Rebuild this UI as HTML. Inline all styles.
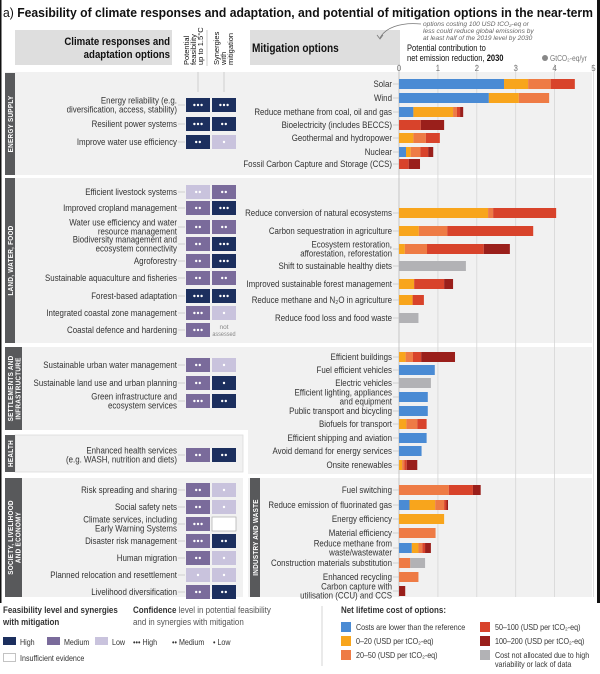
<!DOCTYPE html>
<html><head><meta charset="utf-8"><style>
html,body{margin:0;padding:0;background:#fff;}
svg{display:block;font-family:"Liberation Sans",sans-serif;}
</style></head><body>
<svg id="chart" width="600" height="674" viewBox="0 0 600 674" xmlns="http://www.w3.org/2000/svg">
<rect x="0" y="0" width="1.5" height="603" fill="#111"/>
<rect x="597" y="0" width="3" height="603" fill="#111"/>
<text x="3" y="17" font-size="13" fill="#111" textLength="590" lengthAdjust="spacingAndGlyphs">a) <tspan font-weight="bold">Feasibility of climate responses and adaptation, and potential of mitigation options in the near-term</tspan></text>

<rect x="15" y="30" width="157" height="35" fill="#dedede"/>
<text class="cond" x="170" y="45" font-size="11.5" font-weight="bold" text-anchor="end" fill="#111">Climate responses and</text>
<text class="cond" x="170" y="58" font-size="11.5" font-weight="bold" text-anchor="end" fill="#111">adaptation options</text>
<g font-size="7.5" fill="#111">
<text transform="translate(189,65) rotate(-90)">Potential</text>
<text transform="translate(196,65) rotate(-90)">feasibility</text>
<text transform="translate(203,65) rotate(-90)">up to 1.5°C</text>
<text transform="translate(219,65) rotate(-90)">Synergies</text>
<text transform="translate(226,65) rotate(-90)">with</text>
<text transform="translate(233,65) rotate(-90)">mitigation</text>
</g>
<line x1="207" y1="30" x2="207" y2="66" stroke="#aaa" stroke-width="0.6"/>

<rect x="250" y="30" width="150" height="35" fill="#dedede"/>
<text class="cond" x="252" y="52" font-size="12" font-weight="bold" fill="#111">Mitigation options</text>
<g font-size="6.6" font-style="italic" fill="#666">
<text x="423" y="26">options costing 100 USD tCO₂-eq or</text>
<text x="423" y="33">less could reduce global emissions by</text>
<text x="423" y="40">at least half of the 2019 level by 2030</text>
</g>
<path d="M421,24 C400,22 385,28 380,38" fill="none" stroke="#777" stroke-width="0.8"/>
<path d="M377,35 L380,39 L383,35" fill="none" stroke="#777" stroke-width="0.8"/>
<text class="cond" x="407" y="51" font-size="9" fill="#111">Potential contribution to</text>
<text class="cond" x="407" y="61" font-size="9" fill="#111">net emission reduction, <tspan font-weight="bold">2030</tspan></text>
<circle cx="545" cy="58" r="3" fill="#888"/>
<text class="cond" x="550" y="61" font-size="8" fill="#777">GtCO₂-eq/yr</text>

<g id="panels"></g>
<g id="grid"></g>
<g id="content"></g>

<!-- legend -->
<g font-size="8.5" fill="#333">
<text class="cond" x="3" y="613" font-size="9.5" font-weight="bold" fill="#333">Feasibility level and synergies</text>
<text class="cond" x="3" y="625" font-size="9.5" font-weight="bold" fill="#333">with mitigation</text>
<rect x="3" y="637" width="13" height="8" fill="#1c2f5e"/><text class="cond" x="20" y="645">High</text>
<rect x="47" y="637" width="13" height="8" fill="#7a6b9b"/><text class="cond" x="64" y="645">Medium</text>
<rect x="95" y="637" width="13" height="8" fill="#c9c3dd"/><text class="cond" x="112" y="645">Low</text>
<rect x="3.5" y="653.5" width="12" height="8" fill="#fff" stroke="#aaa" stroke-width="0.7"/><text class="cond" x="20" y="661">Insufficient evidence</text>
<text class="cond" x="133" y="613" font-size="9.5" fill="#555"><tspan font-weight="bold" fill="#333">Confidence</tspan> level in potential feasibility</text>
<text class="cond" x="133" y="625" font-size="9.5" fill="#555">and in synergies with mitigation</text>
<text class="cond" x="133" y="645">••• High</text>
<text class="cond" x="172" y="645">•• Medium</text>
<text class="cond" x="213" y="645">• Low</text>
<line x1="322" y1="606" x2="322" y2="666" stroke="#ccc" stroke-width="0.8"/>
<text class="cond" x="341" y="613" font-size="9.5" font-weight="bold" fill="#333">Net lifetime cost of options:</text>
<rect x="341" y="622" width="10" height="10" fill="#4a8bd4"/><text class="cond" x="356" y="630">Costs are lower than the reference</text>
<rect x="341" y="636" width="10" height="10" fill="#f8a51c"/><text class="cond" x="356" y="644">0–20 (USD per tCO₂-eq)</text>
<rect x="341" y="650" width="10" height="10" fill="#ee7b45"/><text class="cond" x="356" y="658">20–50 (USD per tCO₂-eq)</text>
<rect x="480" y="622" width="10" height="10" fill="#d8432b"/><text class="cond" x="495" y="630">50–100 (USD per tCO₂-eq)</text>
<rect x="480" y="636" width="10" height="10" fill="#9a1f1b"/><text class="cond" x="495" y="644">100–200 (USD per tCO₂-eq)</text>
<rect x="480" y="650" width="10" height="10" fill="#b2b2b5"/><text class="cond" x="495" y="658">Cost not allocated due to high</text>
<text class="cond" x="495" y="667">variability or lack of data</text>
</g>
</svg>
<script>
// ---- mitigation data (GtCO2-eq/yr per cost band) ----
const mitLabels = ["Solar","Wind","Reduce methane from coal, oil and gas","Bioelectricity (includes BECCS)","Geothermal and hydropower","Nuclear","Fossil Carbon Capture and Storage (CCS)",
"Reduce conversion of natural ecosystems","Carbon sequestration in agriculture","Ecosystem restoration,\nafforestation, reforestation","Shift to sustainable healthy diets","Improved sustainable forest management","Reduce methane and N₂O in agriculture","Reduce food loss and food waste",
"Efficient buildings","Fuel efficient vehicles","Electric vehicles","Efficient lighting, appliances\nand equipment","Public transport and bicycling","Biofuels for transport","Efficient shipping and aviation","Avoid demand for energy services","Onsite renewables",
"Fuel switching","Reduce emission of fluorinated gas","Energy efficiency","Material efficiency","Reduce methane from\nwaste/wastewater","Construction materials substitution","Enhanced recycling","Carbon capture with\nutilisation (CCU) and CCS"];
const costNegative = [2.7,2.31,0.37,0,0,0.18,0, 0,0,0,0,0,0,0, 0,0.92,0,0.74,0.74,0,0.71,0.58,0, 0,0.27,0,0,0.33,0,0,0];
const cost0to20    = [0.62,0.77,1.02,0,0.37,0.12,0, 2.29,0.51,0.15,0,0.39,0.35,0, 0.17,0,0,0,0,0.19,0,0,0.08, 0,0.66,1.16,0,0.17,0,0,0];
const cost20to50   = [0.58,0.78,0.1,0,0.32,0.25,0, 0.13,0.73,0.57,0,0,0,0, 0.19,0,0,0,0,0.28,0,0,0.06, 1.28,0.23,0,0.94,0.1,0.29,0.5,0];
const cost50to100  = [0.62,0,0.08,0.56,0.36,0.2,0.25, 1.62,2.21,1.46,0,0.77,0.29,0, 0.21,0,0,0,0,0.24,0,0,0.06, 0.62,0.06,0,0,0.07,0,0,0];
const cost100to200 = [0,0,0.08,0.6,0,0.13,0.29, 0,0,0.67,0,0.23,0,0, 0.87,0,0,0,0,0,0,0,0.27, 0.2,0.04,0,0,0.15,0,0,0.16];
const costUnalloc  = [0,0,0,0,0,0,0, 0,0,0,1.72,0,0,0.5, 0,0,0.82,0,0,0,0,0,0, 0,0,0,0,0,0.38,0,0];
const axisTicks = ["0","1","2","3","4","5"];

// ---- adaptation data ----
const adaptLabels = ["Energy reliability (e.g.\ndiversification, access, stability)","Resilient power systems","Improve water use efficiency",
"Efficient livestock systems","Improved cropland management","Water use efficiency and water\nresource management","Biodiversity management and\necosystem connectivity","Agroforestry","Sustainable aquaculture and fisheries","Forest-based adaptation","Integrated coastal zone management","Coastal defence and hardening",
"Sustainable urban water management","Sustainable land use and urban planning","Green infrastructure and\necosystem services",
"Enhanced health services\n(e.g. WASH, nutrition and diets)",
"Risk spreading and sharing","Social safety nets","Climate services, including\nEarly Warning Systems","Disaster risk management","Human migration","Planned relocation and resettlement","Livelihood diversification"];
const feasLevel = ["H","H","H","L","M","M","M","M","M","H","M","M","M","M","M","M","M","M","M","M","M","L","M"];
const feasConf  = [3,3,2,2,2,2,2,2,2,3,3,3,2,2,3,2,2,2,3,3,2,1,2];
const synLevel  = ["H","H","L","M","H","M","H","H","M","H","L","NA","L","H","H","H","L","L","I","H","L","L","H"];
const synConf   = [3,2,1,2,3,2,3,3,2,3,1,0,1,1,2,2,1,1,0,2,1,1,2];

// ---- layout (positions only) ----
const mitRowY = [84,98,112,125,138,152,164, 213,231,249,266,284,300,318, 357,370,383,397,411,424,438,451,465, 490,505,519,533,548,563,577,591];
const adaptRowY = [105,124,142, 192,208,227,244,261,278,296,313,330, 365,383,401, 455, 490,507,524,541,558,575,592];
const X0 = 399, UNIT = 38.9;
const xScale = v => X0 + v * UNIT;
const NS = "http://www.w3.org/2000/svg";
const costColors = ["#4a8bd4","#f8a51c","#ee7b45","#d8432b","#9a1f1b","#b2b2b5"];
const levelColors = {H:"#1c2f5e",M:"#7a6b9b",L:"#c9c3dd"};

function mk(tag, attrs, parent){const e=document.createElementNS(NS,tag);for(const k in attrs)e.setAttribute(k,attrs[k]);parent.appendChild(e);return e;}
function condense(el, s){const x=+el.getAttribute("x"), y=+el.getAttribute("y");el.setAttribute("transform",`translate(${x},${y}) scale(${s},1) translate(${-x},${-y})`);}
const panels=document.getElementById("panels"), grid=document.getElementById("grid"), content=document.getElementById("content");

const P="#f1f1f1";
let r;
r=mk("rect",{x:5,y:72,width:587,height:103,fill:P},panels);


r=mk("rect",{x:5,y:178,width:587,height:165,fill:P},panels);


r=mk("rect",{x:5,y:347,width:243,height:83,fill:P},panels);


r=mk("rect",{x:248,y:347,width:344,height:127,fill:P},panels);


r=mk("rect",{x:15,y:435,width:228,height:37,fill:P,stroke:"#ddd","stroke-width":0.8},panels);


r=mk("rect",{x:5,y:478,width:238,height:119,fill:P},panels);


r=mk("rect",{x:248,y:478,width:344,height:119,fill:P},panels);



const sidebars=[[5,73,102,["ENERGY SUPPLY"]],[5,178,165,["LAND, WATER, FOOD"]],[5,347,83,["SETTLEMENTS AND","INFRASTRUCTURE"]],[5,435,37,["HEALTH"]],[5,478,119,["SOCIETY, LIVELIHOOD","AND ECONOMY"]],[250,478,119,["INDUSTRY AND WASTE"]]];
sidebars.forEach(s=>{
  const g=mk("g",{},panels);
  
  
  const two=s[3].length>1;
  const w=two?17:10;
  mk("rect",{x:s[0],y:s[1],width:w,height:s[2],fill:"#58595b"},g);
  s[3].forEach((line,i)=>{
    const bx=s[0]+(two?(i===0?8:15.5):8);
    const t=mk("text",{transform:`translate(${bx},${s[1]+s[2]/2}) rotate(-90) scale(0.85,1)`,"font-size":7.5,"font-weight":"bold",fill:"#fff","text-anchor":"middle","letter-spacing":"0.3"},g);
    t.textContent=line;
  });
});

axisTicks.forEach((lab,i)=>{
  const x=xScale(+lab);
  const l=mk("line",{x1:x,y1:64,x2:x,y2:597,stroke:i===0?"#bbb":"#d6d6d6","stroke-width":0.8},grid);
  
  
  const t=mk("text",{x:x,y:71,"font-size":8,fill:"#777","text-anchor":"middle"},grid);
  
  
  t.textContent=lab;
});

function label(txt, xEnd, y, parent){
  const lines=txt.split("\n");
  const start=y+3-(lines.length-1)*4.5;
  lines.forEach((ln,i)=>{
    const t=mk("text",{x:xEnd,y:start+i*9,"font-size":9,fill:"#333","text-anchor":"end"},parent);
    t.textContent=ln;
    condense(t,0.88);
  });
}

const series=[costNegative,cost0to20,cost20to50,cost50to100,cost100to200,costUnalloc];
const segNames=['bar-cost-negative','bar-cost-0-20','bar-cost-20-50','bar-cost-50-100','bar-cost-100-200','bar-cost-unallocated'];
mitLabels.forEach((lab,i)=>{
  const y=mitRowY[i];
  const g=mk("g",{},content);
  
  
  label(lab,392,y,g);
  mk("line",{x1:393,y1:y,x2:399,y2:y,stroke:"#bbb","stroke-width":0.6},g);
  let cum=0;
  series.forEach((arr,k)=>{
    const v=arr[i];
    if(v>0){
      const b=mk("rect",{x:xScale(cum),y:y-5,width:xScale(cum+v)-xScale(cum),height:10,fill:costColors[k]},g);
      
      
      cum+=v;
    }
  });
});

function cell(x,y,level,conf,parent,name){
  if(level==="NA"){
    const t1=mk("text",{x:x+12,y:y-1,"font-size":6.5,fill:"#888","text-anchor":"middle"},parent);t1.textContent="not";
    const t2=mk("text",{x:x+12,y:y+6,"font-size":6.5,fill:"#888","text-anchor":"middle"},parent);t2.textContent="assessed";
    condense(t2,0.85);
    return;
  }
  const c=level==="I"?"#fff":levelColors[level];
  const b=mk("rect",{x:x,y:y-7,width:24,height:14,fill:c,stroke:level==="I"?"#aaa":"none","stroke-width":0.7},parent);
  
  
  for(let d=0;d<conf;d++){
    mk("circle",{cx:x+12+(d-(conf-1)/2)*3.6,cy:y,r:1.2,fill:"#fff"},parent);
  }
}
adaptLabels.forEach((lab,i)=>{
  const y=adaptRowY[i];
  const g=mk("g",{},content);
  
  
  label(lab,177,y,g);
  mk("line",{x1:178,y1:y,x2:185,y2:y,stroke:"#bbb","stroke-width":0.6},g);
  cell(186,y,feasLevel[i],feasConf[i],g,'feasibility-cell');
  cell(212,y,synLevel[i],synConf[i],g,'synergy-cell');
});
[198,224].forEach(x=>{mk("line",{x1:x,y1:72,x2:x,y2:92,stroke:"#bbb","stroke-width":0.6},content);});

document.querySelectorAll("text.cond").forEach(t=>condense(t,0.84));
</script>
</body></html>
